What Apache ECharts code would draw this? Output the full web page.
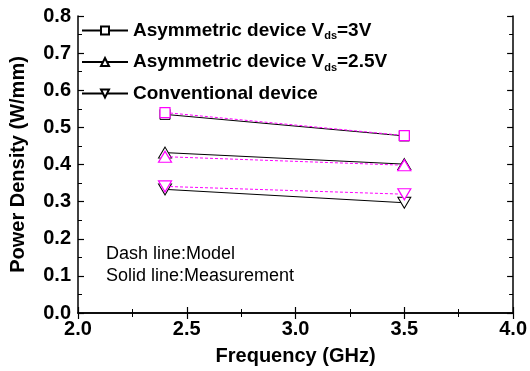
<!DOCTYPE html>
<html>
<head>
<meta charset="utf-8">
<script src="https://cdn.jsdelivr.net/npm/echarts@6/dist/echarts.min.js"></script>
<style>
  html, body { margin: 0; padding: 0; background: #fff; }
  #chart { width: 530px; height: 371px; }
</style>
</head>
<body>
<div id="chart"></div>
<script>
// frequencies (GHz)
const freqs = [2.4, 3.5]

// measurement (solid black)
const measAsym3 = [0.535, 0.477]
const measAsym25 = [0.432, 0.401]
const measConv = [0.333, 0.297]

// model (dashed magenta)
const modelAsym3 = [0.540, 0.478]
const modelAsym25 = [0.421, 0.398]
const modelConv = [0.341, 0.320]

const legendNames = ['asym3', 'asym25', 'conv']
const legendLabels = {
  asym3: '{a|Asymmetric device V}{s|ds}{a|=3V}',
  asym25: '{a|Asymmetric device V}{s|ds}{a|=2.5V}',
  conv: '{a|Conventional device}'
}

const FONT = '"Liberation Sans", Arial, sans-serif'
const DOWN_TRI = 'path://M0,0 L10,0 L5,9 Z'

const pairs = vals => freqs.map((f, i) => [f, vals[i]])

function meas(name, vals, symbol, size) {
  return {
    name: name,
    type: 'line',
    data: pairs(vals),
    symbol: symbol,
    symbolSize: size,
    lineStyle: { color: '#000', width: 1 },
    itemStyle: { color: '#fff', borderColor: '#000', borderWidth: 1 },
    z: 2
  }
}

function model(vals, symbol, size) {
  return {
    name: 'model',
    type: 'line',
    data: pairs(vals),
    symbol: symbol,
    symbolSize: size,
    lineStyle: { color: '#ff00ff', width: 1, type: [3, 2] },
    itemStyle: { color: '#fff', borderColor: '#ff00ff', borderWidth: 1.2 },
    z: 3
  }
}

const axisCommon = {
  type: 'value',
  axisLine: { show: true, lineStyle: { color: '#000', width: 1.5 } },
  axisTick: { show: true, inside: true, length: 6, lineStyle: { color: '#000', width: 1.2 } },
  minorTick: { show: true, splitNumber: 2, length: 4, lineStyle: { color: '#000', width: 1 } },
  splitLine: { show: false }
}

let chart = echarts.init(document.getElementById('chart'))
chart.setOption({
  animation: false,
  grid: { left: 78, right: 15, top: 16, bottom: 55 },
  legend: {
    data: legendNames,
    orient: 'vertical',
    left: 76,
    top: 16,
    itemWidth: 46,
    itemHeight: 10,
    itemGap: 11,
    formatter: n => legendLabels[n],
    textStyle: {
      height: 22,
      rich: {
        a: { fontFamily: FONT, fontWeight: 'bold', fontSize: 19, color: '#000', lineHeight: 22 },
        s: { fontFamily: FONT, fontWeight: 'bold', fontSize: 11, color: '#000', lineHeight: 8, verticalAlign: 'bottom' }
      }
    }
  },
  xAxis: [
    Object.assign({}, axisCommon, {
      min: 2, max: 4, interval: 0.5,
      name: 'Frequency (GHz)',
      nameLocation: 'middle',
      nameGap: 33,
      nameTextStyle: { fontFamily: FONT, fontWeight: 'bold', fontSize: 20, color: '#000' },
      axisLabel: { fontFamily: FONT, fontWeight: 'bold', fontSize: 20, color: '#000', margin: 6,
        formatter: v => v.toFixed(1) }
    }),
    Object.assign({}, axisCommon, {
      position: 'top', min: 2, max: 4, interval: 0.5,
      axisLabel: { show: false }
    })
  ],
  yAxis: [
    Object.assign({}, axisCommon, {
      min: 0, max: 0.8, interval: 0.1,
      name: 'Power Density (W/mm)',
      nameLocation: 'middle',
      nameGap: 50,
      nameTextStyle: { fontFamily: FONT, fontWeight: 'bold', fontSize: 20, color: '#000' },
      axisLabel: { fontFamily: FONT, fontWeight: 'bold', fontSize: 20, color: '#000', margin: 7,
        formatter: v => v.toFixed(1) }
    }),
    Object.assign({}, axisCommon, {
      position: 'right', min: 0, max: 0.8, interval: 0.1,
      axisLabel: { show: false }
    })
  ],
  graphic: [
    { type: 'text', left: 106, top: 245,
      style: { text: 'Dash line:Model', font: '18px ' + FONT, fill: '#000' } },
    { type: 'text', left: 106, top: 267,
      style: { text: 'Solid line:Measurement', font: '18px ' + FONT, fill: '#000' } }
  ],
  series: [
    meas('asym3', measAsym3, 'rect', 10),
    meas('asym25', measAsym25, 'triangle', [13, 11]),
    meas('conv', measConv, DOWN_TRI, [13, 11]),
    model(modelAsym3, 'rect', 10),
    model(modelAsym25, 'triangle', [13, 11]),
    model(modelConv, DOWN_TRI, [13, 11])
  ]
})
</script>
</body>
</html>
